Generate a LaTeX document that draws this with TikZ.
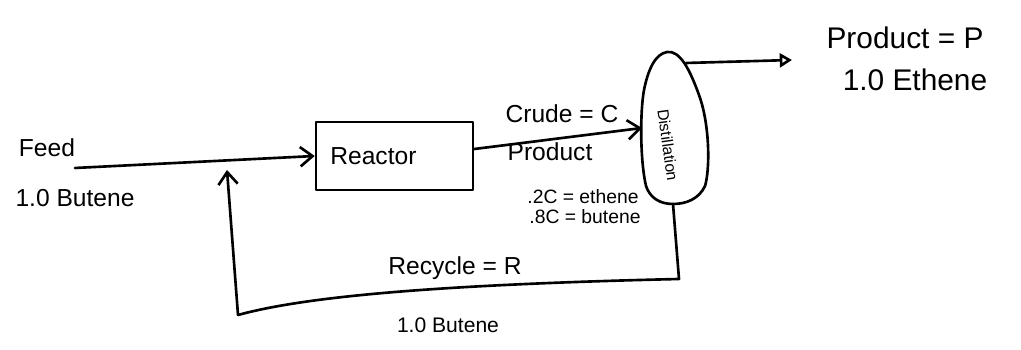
\documentclass[tikz,border=0pt]{standalone}
\usepackage{fontspec}
\setmainfont{Liberation Sans}
\usetikzlibrary{arrows.meta}
\tikzset{
  line/.style={line width=1.5pt, line cap=round, line join=round},
  barb/.style={line, -{Straight Barb[length=7pt,width=11pt,line width=1.5pt]}},
  tri/.style={line, -{Triangle[open,length=7pt,width=8pt,line width=1.5pt]}},
  lbl/.style={inner sep=0pt, font=\fontsize{14}{16}\selectfont},
  small/.style={inner sep=0pt, font=\fontsize{11}{13}\selectfont},
  big/.style={inner sep=0pt, font=\fontsize{17}{20}\selectfont},
  unitbox/.style={line, draw, rectangle, minimum width=3.14cm, minimum height=1.36cm, inner sep=0pt}
}
\begin{document}
\begin{tikzpicture}[x=0.02cm,y=-0.02cm]
\useasboundingbox (0,0) rectangle (1021,350);

% labels
\node[lbl] (feed) at (47,148) {Feed};
\node[lbl] (feedamt) at (75,198) {1.0 Butene};
\node[unitbox] (reactor) at (394.5,156) {};
\node[lbl, anchor=west] (reactorlbl) at (330,156) {Reactor};
\node[lbl] (crude) at (562,114) {Crude = C};
\node[lbl] (crudeprod) at (550,152) {Product};
\node[small] (eth) at (583,197) {.2C = ethene};
\node[small] (but) at (585,217) {.8C = butene};
\node[big] (prodlbl) at (905,38) {Product = P};
\node[big] (prodamt) at (915,80) {1.0 Ethene};
\node[lbl] (recyc) at (455,268) {Recycle = R};
\node[small, font=\fontsize{12}{14}\selectfont] (recamt) at (448,325) {1.0 Butene};

% distillation column
\draw[line] (667,52) .. controls (680,50) and (690,70) .. (699,95)
  .. controls (710,125) and (710,170) .. (705,186)
  .. controls (699,199) and (686,204) .. (673,204)
  .. controls (660,204) and (650,198) .. (646,186)
  .. controls (640,160) and (640,112) .. (644,90)
  .. controls (648,70) and (655,54) .. cycle;
\node[small, rotate=-82, font=\fontsize{9}{10}\selectfont] (colname) at (668,145) {Distillation};

\coordinate (feedstart) at (75,168);
\coordinate (colin) at (642,128);
\coordinate (coltop) at (686,63);
\coordinate (prodend) at (792,60);
\coordinate (colbot) at (673,204);
\coordinate (recr) at (679,279);
\coordinate (recl) at (238,315);
\coordinate (rectip) at (227,170);

% connectors
\draw[barb] (feedstart) -- (reactor.west);
\draw[barb] (reactor.east |- 0,149) -- (colin);
\draw[tri] (coltop) -- (prodend);
\draw[line] (colbot) -- (recr) .. controls (420,285) and (300,298) .. (recl);
\draw[barb] (recl) -- (rectip);
\end{tikzpicture}
\end{document}
